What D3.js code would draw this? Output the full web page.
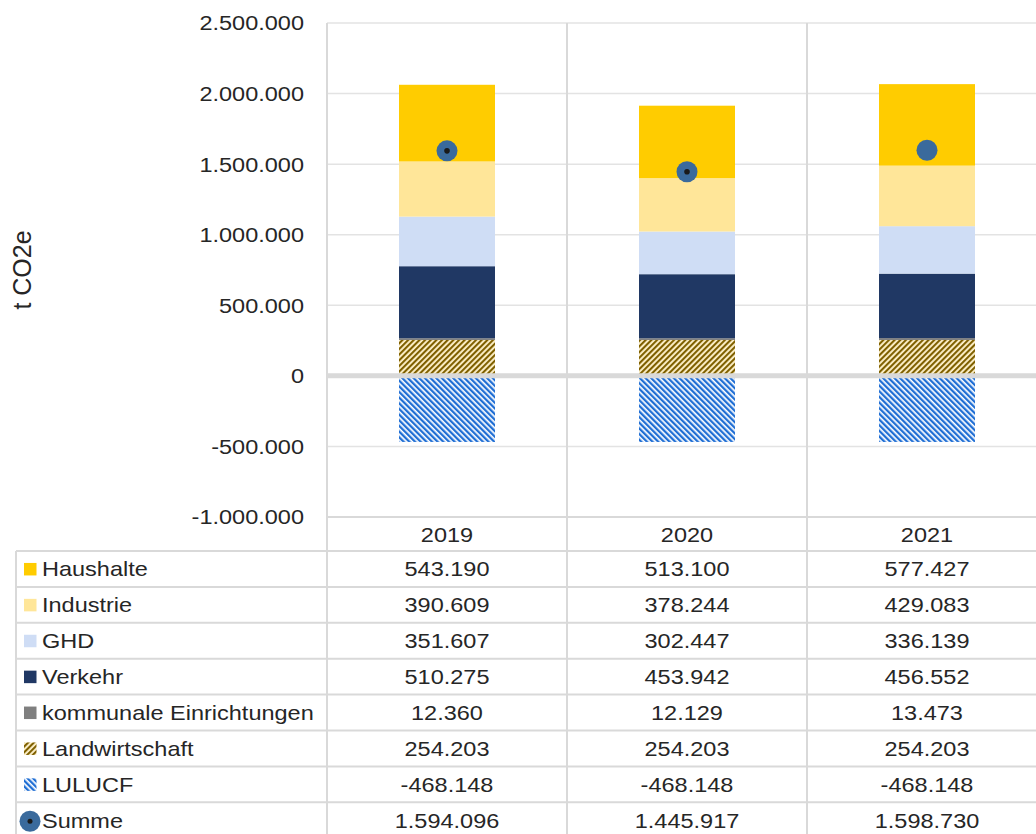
<!DOCTYPE html>
<html><head><meta charset="utf-8">
<script src="https://cdn.jsdelivr.net/npm/d3@7"></script>
<style>
html,body{margin:0;padding:0;background:#fff;}
text{font-family:"Liberation Sans",Arial,sans-serif;fill:#262626;}
</style></head>
<body>
<svg id="chart" width="1036" height="834"></svg>
<script>
const years = ["2019", "2020", "2021"];
const haushalte = [543190, 513100, 577427];
const industrie = [390609, 378244, 429083];
const ghd = [351607, 302447, 336139];
const verkehr = [510275, 453942, 456552];
const kommunale = [12360, 12129, 13473];
const landwirtschaft = [254203, 254203, 254203];
const lulucf = [-468148, -468148, -468148];
const summe = [1594096, 1445917, 1598730];
const summeDot = [true, true, false];
const yTicks = [-1000000, -500000, 0, 500000, 1000000, 1500000, 2000000, 2500000];
const axisTitle = "t CO2e";

const series = [
  {name: "Haushalte", values: haushalte, fill: "#FFCC00", icon: "rect"},
  {name: "Industrie", values: industrie, fill: "#FFE699", icon: "rect"},
  {name: "GHD", values: ghd, fill: "#CFDDF5", icon: "rect"},
  {name: "Verkehr", values: verkehr, fill: "#203864", icon: "rect"},
  {name: "kommunale Einrichtungen", values: kommunale, fill: "#7F7F7F", icon: "rect"},
  {name: "Landwirtschaft", values: landwirtschaft, fill: "url(#hatchLand)", icon: "rect"},
  {name: "LULUCF", values: lulucf, fill: "url(#hatchLulu)", icon: "rect"},
  {name: "Summe", values: summe, fill: "#3A6A9C", icon: "circle"}
];
const stackOrder = ["Landwirtschaft", "kommunale Einrichtungen", "Verkehr", "GHD", "Industrie", "Haushalte"];

const loc = d3.formatLocale({decimal: ",", thousands: ".", grouping: [3], currency: ["", "€"], minus: "-"});
const fmt = loc.format(",d");

const svg = d3.select("#chart");
const defs = svg.append("defs");
function hatch(id, angle, fg, bg, w) {
  const p = defs.append("pattern").attr("id", id).attr("patternUnits", "userSpaceOnUse")
    .attr("width", 4).attr("height", 4).attr("patternTransform", `rotate(${angle})`);
  p.append("rect").attr("width", 4).attr("height", 4).attr("fill", bg);
  p.append("rect").attr("width", w).attr("height", 4).attr("fill", fg);
}
hatch("hatchLand", 45, "#7F6000", "#FFF2CC", 2.1);
hatch("hatchLulu", -45, "#1F6ED4", "#FFFFFF", 2.3);

const FS = 21, SX = 1.12;
function label(g, xx, yy, str, anchor, size) {
  return g.append("text").attr("transform", `translate(${xx},${yy}) scale(${SX},1)`)
    .attr("dy", "0.35em").attr("text-anchor", anchor || "start")
    .style("font-size", (size || FS) + "px").text(str);
}

const plotLeft = 327, plotTop = 23, plotBottom = 517, colW = 240;
const plotRight = plotLeft + colW * years.length;
const x = d3.scaleBand().domain(years).range([plotLeft, plotRight]).paddingInner(0).paddingOuter(0);
const y = d3.scaleLinear().domain([-1000000, 2500000]).range([plotBottom, plotTop]);
const barW = x.bandwidth() * 0.4;
const grid = "#D9D9D9";

// horizontal gridlines
svg.append("g").selectAll("line").data(yTicks).join("line")
  .attr("x1", plotLeft).attr("x2", plotRight)
  .attr("y1", d => y(d)).attr("y2", d => y(d))
  .attr("stroke", "#E3E3E3").attr("stroke-width", 1.5);

// tick labels
const gT = svg.append("g");
yTicks.forEach(d => label(gT, 304, y(d), fmt(d), "end"));

svg.append("text").attr("transform", `translate(31,270) rotate(-90)`)
  .attr("text-anchor", "middle").style("font-size", "25px").text(axisTitle);

// stacked positive bars
const byName = Object.fromEntries(series.map(s => [s.name, s]));
years.forEach((yr, i) => {
  let base = 0;
  stackOrder.forEach(n => {
    const s = byName[n];
    const v = s.values[i];
    svg.append("rect").attr("x", x(yr) + (x.bandwidth() - barW) / 2).attr("width", barW)
      .attr("y", y(base + v)).attr("height", y(base) - y(base + v)).attr("fill", s.fill);
    base += v;
  });
  const v = lulucf[i];
  svg.append("rect").attr("x", x(yr) + (x.bandwidth() - barW) / 2).attr("width", barW)
    .attr("y", y(0)).attr("height", y(v) - y(0)).attr("fill", "url(#hatchLulu)");
});

// zero line
svg.append("line").attr("x1", plotLeft).attr("x2", plotRight).attr("y1", y(0)).attr("y2", y(0))
  .attr("stroke", grid).attr("stroke-width", 5);

// summe markers
years.forEach((yr, i) => {
  const cx = x(yr) + x.bandwidth() / 2, cy = y(summe[i]);
  svg.append("circle").attr("cx", cx).attr("cy", cy).attr("r", 10.5).attr("fill", "#3A6A9C");
  if (summeDot[i]) svg.append("circle").attr("cx", cx).attr("cy", cy).attr("r", 2.8).attr("fill", "#1a1a1a");
});

// data table
const tableLeft = 16, rowH = 35.9;
const rowsTop = 551;
years.forEach(yr => {
  svg.append("line").attr("x1", x(yr)).attr("x2", x(yr)).attr("y1", plotTop).attr("y2", 834)
    .attr("stroke", grid).attr("stroke-width", 2);
});
svg.append("line").attr("x1", plotRight).attr("x2", plotRight).attr("y1", plotTop).attr("y2", 834)
  .attr("stroke", grid).attr("stroke-width", 2);
svg.append("line").attr("x1", tableLeft).attr("x2", tableLeft).attr("y1", rowsTop).attr("y2", 834)
  .attr("stroke", grid).attr("stroke-width", 2);
svg.append("line").attr("x1", plotLeft).attr("x2", plotRight).attr("y1", plotBottom).attr("y2", plotBottom)
  .attr("stroke", grid).attr("stroke-width", 2);
for (let r = 0; r <= series.length; r++) {
  const yy = rowsTop + r * rowH;
  svg.append("line").attr("x1", tableLeft).attr("x2", plotRight).attr("y1", yy).attr("y2", yy)
    .attr("stroke", grid).attr("stroke-width", 2);
}
const gTab = svg.append("g");
years.forEach(yr => label(gTab, x(yr) + x.bandwidth() / 2, (plotBottom + rowsTop) / 2 + 1, yr, "middle"));
series.forEach((s, r) => {
  const cy = rowsTop + r * rowH + rowH / 2;
  if (s.icon === "circle") {
    svg.append("circle").attr("cx", 30).attr("cy", cy + 1).attr("r", 10.5).attr("fill", s.fill);
    svg.append("circle").attr("cx", 30).attr("cy", cy + 1).attr("r", 2.5).attr("fill", "#1a1a1a");
  } else {
    svg.append("rect").attr("x", 24).attr("y", cy - 6).attr("width", 12.5).attr("height", 12.5).attr("fill", s.fill);
  }
  label(gTab, 42, cy, s.name, "start");
  years.forEach((yr, i) => label(gTab, x(yr) + x.bandwidth() / 2, cy, fmt(s.values[i]), "middle"));
});
</script>
</body></html>
